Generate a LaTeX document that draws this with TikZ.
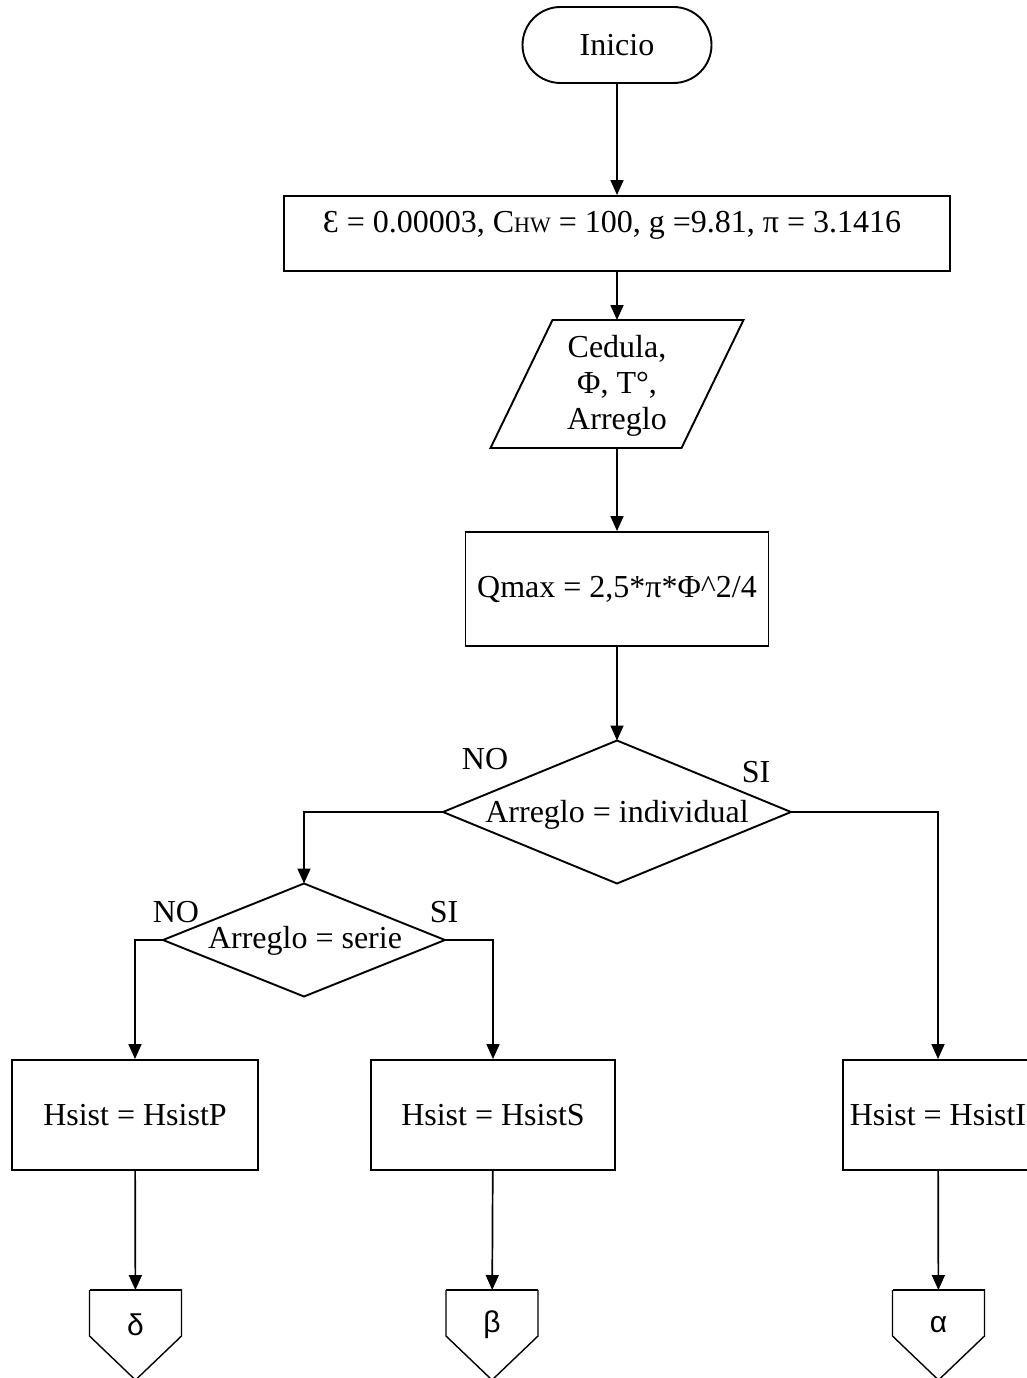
\documentclass[tikz,border=0pt]{standalone}
\usepackage{fontspec}
\setmainfont{Liberation Serif}
\newfontfamily\greekfont{Liberation Sans}
\usetikzlibrary{arrows.meta,calc}

\begin{document}
\begin{tikzpicture}[x=1pt,y=-1pt,
  every node/.style={font=\fontsize{32}{36}\selectfont},
  line/.style={line width=1.7pt},
  arrow/.style={line, -{Triangle[length=15pt,width=13pt]}},
  frame/.style={draw, line width=1.9pt, inner sep=0pt},
  hold/.style={inner sep=0pt, outer sep=0pt},
  txt/.style={inner sep=0pt},
  greek/.style={inner sep=0pt, font=\greekfont\fontsize{30}{34}\selectfont},
  outline/.style={line width=1.9pt, line join=miter},
  tag/.style={line width=1.4pt}]
\useasboundingbox (0,0) rectangle (1026,1378);

% start terminal
\node[frame, rounded corners=38pt, minimum width=189pt, minimum height=76pt] (inicio) at (617,45) {Inicio};

% constants
\node[frame, minimum width=666pt, minimum height=75pt] (params) at (617,233.5) {};
\node[txt, anchor=base] (paramstxt) at (612,232) {Ɛ = 0.00003, C{\fontsize{22}{26}\selectfont HW} = 100, g =9.81, π = 3.1416};

% input data
\node[hold, minimum width=253pt, minimum height=128pt] (entrada) at (617,384) {};
\draw[outline] ($(entrada.north west)+(62,0)$) -- (entrada.north east) -- ($(entrada.south east)+(-62,0)$) -- (entrada.south west) -- cycle;
\node[txt, align=center] (entradatxt) at (617,386) {Cedula,\\ Φ, T°,\\ Arreglo};

% maximum flow
\node[frame, minimum width=303pt, minimum height=114pt] (qmax) at (617,589) {Qmax = 2,5*π*Φ\textasciicircum 2/4};

% first decision
\node[hold, minimum width=348pt, minimum height=143pt] (dec1) at (617,812) {};
\draw[outline] (dec1.north) -- (dec1.east) -- (dec1.south) -- (dec1.west) -- cycle;
\node[txt, anchor=base] (dec1txt) at (617,822) {Arreglo = individual};

% second decision
\node[hold, minimum width=282pt, minimum height=113pt] (dec2) at (304,940) {};
\draw[outline] (dec2.north) -- (dec2.east) -- (dec2.south) -- (dec2.west) -- cycle;
\node[txt, anchor=base] (dec2txt) at (305,948) {Arreglo = serie};

% branch labels
\node[txt, anchor=base] (no1) at (485,769) {NO};
\node[txt, anchor=base] (si1) at (756,782) {SI};
\node[txt, anchor=base] (no2) at (176,922) {NO};
\node[txt, anchor=base] (si2) at (444,922) {SI};

% assignments
\node[frame, minimum width=246pt, minimum height=110pt] (hp) at (135,1115) {Hsist = HsistP};
\node[frame, minimum width=244pt, minimum height=110pt] (hs) at (493,1115) {Hsist = HsistS};
\node[frame, minimum width=190pt, minimum height=110pt] (hi) at (938,1115) {Hsist = HsistI};

% off-page connectors
\foreach \n/\x/\g in {pd/135.5/δ, pb/492/β, pa/938.5/α}{
  \node[hold, minimum width=92pt, minimum height=90pt] (\n) at (\x,1335) {};
  \draw[tag] (\n.north east) -- ($(\n.north east)+(0,46)$) -- (\n.south) -- ($(\n.north west)+(0,46)$) -- (\n.north west);
  \draw[line width=2.4pt] (\n.north west) -- (\n.north east);
  \node[greek] (\n txt) at (\x,1325) {\g};
}

% connectors
\draw[arrow] (inicio) -- (params);
\draw[arrow] (params) -- (entrada);
\draw[arrow] (entrada) -- (qmax);
\draw[arrow] (qmax) -- (dec1);
\draw[arrow] (dec1.west) -| (dec2.north);
\draw[arrow] (dec1.east) -| (hi.north);
\draw[arrow] (dec2.west) -| (hp.north);
\draw[arrow] (dec2.east) -| (hs.north);
\draw[arrow] (hp) -- (pd);
\draw[arrow] (hs) -- (pb);
\draw[arrow] (hi) -- (pa);
\end{tikzpicture}
\end{document}
